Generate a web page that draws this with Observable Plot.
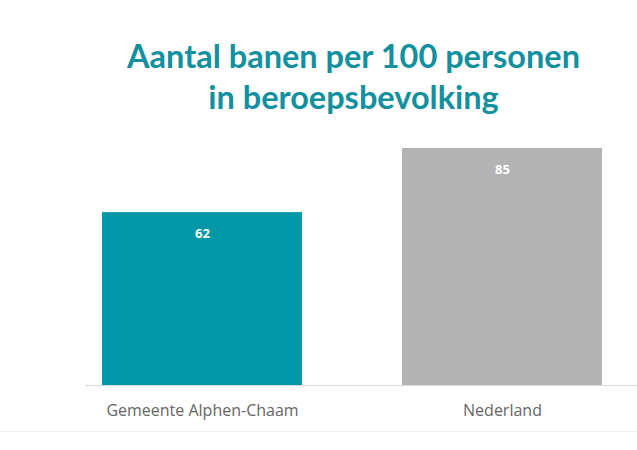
<!DOCTYPE html>
<html>
<head>
<meta charset="utf-8">
<script src="https://cdn.jsdelivr.net/npm/d3@7"></script>
<script src="https://cdn.jsdelivr.net/npm/@observablehq/plot@0.6"></script>
<style>
  html, body { margin: 0; padding: 0; background: #fff; }
  #title {
    width: 567px; padding-left: 70px; height: 125px; box-sizing: content-box;
    text-align: center; font-family: Lato, "Open Sans", sans-serif; font-weight: bold;
    font-size: 32.5px; line-height: 41px; color: #13909f; padding-top: 0;
  }
  #title div:first-child { padding-top: 35px; }
  #chart svg { display: block; border-bottom: 1px solid #f0f0f0; }
</style>
</head>
<body>
<div id="title"><div>Aantal banen per 100 personen</div><div>in beroepsbevolking</div></div>
<div id="chart"></div>
<script>
const categories = ["Gemeente Alphen-Chaam", "Nederland"];
const values = [62, 85];
const colors = ["#0097a7", "#b3b3b3"];

const data = categories.map((c, i) => ({category: c, value: values[i], color: colors[i]}));

const chart = Plot.plot({
  width: 637,
  height: 306,
  marginTop: 23,
  marginBottom: 46,
  marginLeft: 85,
  marginRight: 0,
  style: {fontFamily: "'Open Sans', sans-serif", background: "#fff"},
  x: {domain: categories, paddingInner: 0.332, paddingOuter: 0.083, align: 0.32, label: null},
  y: {domain: [0, 85], axis: null},
  marks: [
    Plot.barY(data, {x: "category", y: "value", fill: "color"}),
    Plot.ruleY([0], {stroke: "#d9d9d9", strokeWidth: 1}),
    Plot.text(data, {x: "category", y: "value", text: d => String(d.value), dy: 21, fill: "#fff", fontWeight: "bold", fontSize: 13}),
    Plot.axisX({tickSize: 0, tickPadding: 19, fontSize: 16, color: "#666", fill: "#666", label: null})
  ]
});
document.getElementById("chart").appendChild(chart);
</script>
</body>
</html>
